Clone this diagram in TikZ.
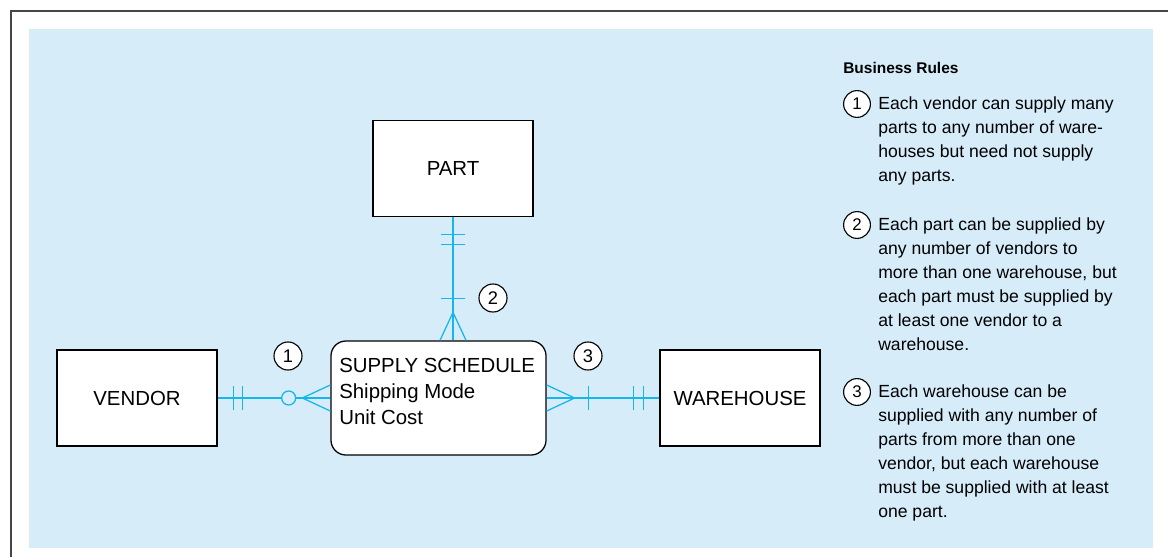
\documentclass[tikz,border=0pt]{standalone}
\usepackage{fontspec}
\setmainfont{Liberation Sans}
\usetikzlibrary{calc}
\definecolor{panelblue}{RGB}{214,236,249}
\definecolor{linkblue}{RGB}{20,182,236}
\definecolor{framegray}{RGB}{70,70,70}
\begin{document}
\begin{tikzpicture}[x=0.025cm, y=-0.025cm,
    entity/.style={draw, fill=white, line width=0.9pt, minimum width=4cm, minimum height=2.4cm, inner sep=0pt, font=\fontsize{14.5}{18.5}\selectfont},
    rel/.style={draw=linkblue, line width=0.9pt},
    optional/.style={circle, draw=linkblue, fill=panelblue, line width=0.9pt, minimum size=0.35cm, inner sep=0pt},
    num/.style={circle, draw, fill=white, line width=0.8pt, minimum size=0.7cm, inner sep=0pt, font=\fontsize{13}{13}\selectfont},
    rulenum/.style={num, minimum size=0.67cm, font=\fontsize{12}{12}\selectfont},
    ruletext/.style={anchor=north west, align=left, inner sep=0pt, font=\fontsize{12.5}{17.2}\selectfont}]
    \useasboundingbox (0,0) rectangle (1168,557);
    \fill[panelblue] (29,29) rectangle (1153,548);
    \draw[framegray, line width=1.4pt] (11,557) -- (11,11) -- (1168,11);
    % entities
    \node[entity] (part) at (453,168.5) {PART};
    \node[entity] (vendor) at (137,398) {VENDOR};
    \node[entity] (warehouse) at (740,398) {WAREHOUSE};
    \node[entity, rounded corners=0.375cm, minimum width=5.375cm, minimum height=2.85cm] (sched) at (438.5,398) {};
    \node[anchor=north west, align=left, inner sep=0pt, font=\fontsize{14.5}{18.5}\selectfont] (schedtext) at (339,358) {SUPPLY SCHEDULE\\Shipping Mode\\Unit Cost};
    \coordinate (schedtop) at (part.south |- sched.north);
    % relationships
    \draw[rel] (vendor.east) -- (sched.west);
    \draw[rel] (sched.east) -- (warehouse.west);
    \draw[rel] (part.south) -- (schedtop);
    \draw[rel] ($(vendor.east)+(16,-12)$) -- +(0,24);
    \draw[rel] ($(vendor.east)+(25,-12)$) -- +(0,24);
    \node[optional] (opt) at ($(vendor.east)+(71,0)$) {};
    \draw[rel] ($(sched.west)+(0,-13)$) -- ($(sched.west)+(-28,0)$) -- ($(sched.west)+(0,13)$);
    \draw[rel] ($(sched.east)+(0,-13)$) -- ($(sched.east)+(28,0)$) -- ($(sched.east)+(0,13)$);
    \draw[rel] ($(sched.east)+(42,-12)$) -- +(0,24);
    \draw[rel] ($(warehouse.west)+(-26,-12)$) -- +(0,24);
    \draw[rel] ($(warehouse.west)+(-16,-12)$) -- +(0,24);
    \draw[rel] ($(part.south)+(-12,17)$) -- +(24,0);
    \draw[rel] ($(part.south)+(-12,27)$) -- +(24,0);
    \draw[rel] ($(schedtop)+(-12,-42)$) -- +(24,0);
    \draw[rel] ($(schedtop)+(-13,0)$) -- ($(schedtop)+(0,-28)$) -- ($(schedtop)+(13,0)$);
    \node[num] (n1) at (288,356) {1};
    \node[num] (n2) at (493,298) {2};
    \node[num] (n3) at (588,356) {3};
    % business rules
    \node[anchor=base west, inner sep=0pt, font=\bfseries\fontsize{11}{13}\selectfont] (rulestitle) at (843,74) {Business Rules};
    \node[rulenum] (r1) at (857,104) {1};
    \node[ruletext] (rule1) at (878,96) {Each vendor can supply many\\parts to any number of ware-\\houses but need not supply\\any parts.};
    \node[rulenum] (r2) at (857,225) {2};
    \node[ruletext] (rule2) at (878,217) {Each part can be supplied by\\any number of vendors to\\more than one warehouse, but\\each part must be supplied by\\at least one vendor to a\\warehouse.};
    \node[rulenum] (r3) at (857,392) {3};
    \node[ruletext] (rule3) at (878,384) {Each warehouse can be\\supplied with any number of\\parts from more than one\\vendor, but each warehouse\\must be supplied with at least\\one part.};
\end{tikzpicture}
\end{document}
